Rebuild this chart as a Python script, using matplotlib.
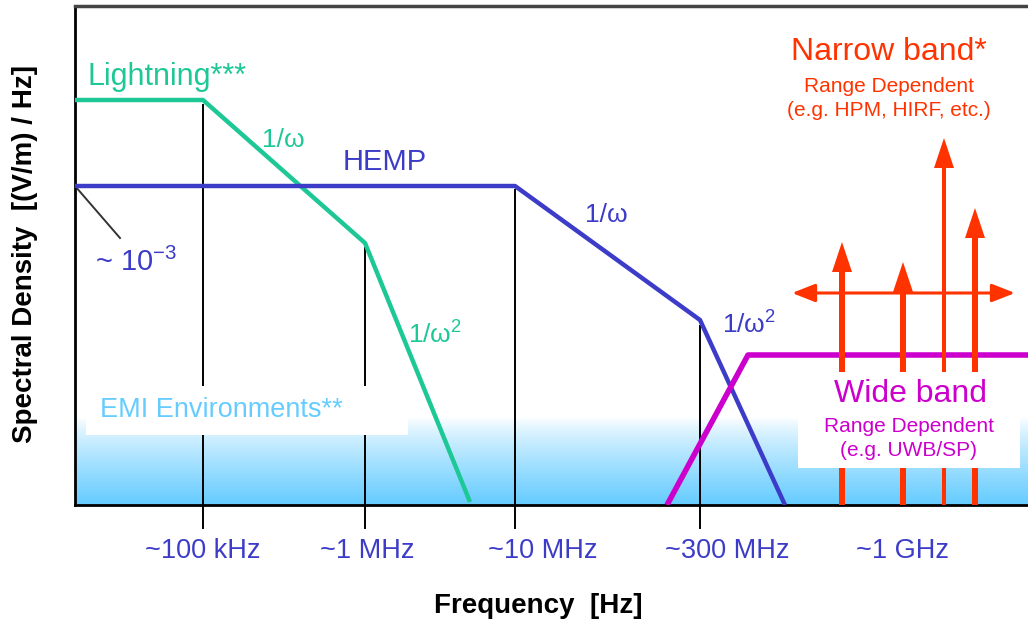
import numpy as np
import matplotlib
matplotlib.use("Agg")
import matplotlib.pyplot as plt
from matplotlib.colors import LinearSegmentedColormap
from matplotlib.patches import Rectangle

plt.rcParams['font.family'] = ['Liberation Sans', 'DejaVu Sans']
plt.rcParams['mathtext.fontset'] = 'custom'
plt.rcParams['mathtext.rm'] = 'Liberation Sans'
plt.rcParams['mathtext.default'] = 'regular'

# schematic units (x: position along frequency axis, y: spectral density level)
lightning_x = [0, 128, 290, 395]
lightning_y = [405, 405, 262, 3]
hemp_x = [0, 440, 625, 710]
hemp_y = [319, 319, 185, 0]
wide_x = [592, 673, 953]
wide_y = [0, 150, 150]

# narrow band sources
narrow_x = [767, 828, 869, 900]
narrow_h = [263, 243, 367, 297]
narrow_w = [6, 6, 4, 6]

# frequency markers: (line x, line top) and label positions
tick_x = [128, 290, 440, 625]
tick_top = [400, 257, 315, 179]
label_x = [128, 292, 468, 652, 828]
label_txt = ['~100 kHz', '~1 MHz', '~10 MHz', '~300 MHz', '~1 GHz']

green = '#1ec896'
blue = '#3c3cc8'
magenta = '#cc00cc'
red = '#ff3300'
sky = '#66ccff'

fig = plt.figure(figsize=(10.28, 6.23), dpi=100)
ax = fig.add_axes([75 / 1028, 118 / 623, 953 / 1028, 499 / 623])
ax.set_xlim(0, 953)
ax.set_ylim(0, 499)
ax.set_xticks([])
ax.set_yticks([])
ax.spines['right'].set_visible(False)
for s in ['left', 'bottom']:
    ax.spines[s].set_linewidth(2)
ax.spines['top'].set_linewidth(2.5)
ax.spines['top'].set_color('#444444')

# light blue ground gradient: white on top, sky blue at the axis
cmap = LinearSegmentedColormap.from_list('g', ['white', sky])
grad = (np.linspace(0, 1, 100) ** 0.8).reshape(-1, 1)
ax.imshow(grad, cmap=cmap, aspect='auto', extent=[0, 953, 0, 88],
          origin='upper', zorder=0, vmin=0, vmax=1)

# frequency marker lines
for x, top in zip(tick_x, tick_top):
    ax.plot([x, x], [-23, top], color='black', lw=1.4, clip_on=False, zorder=1)

# leader for 10^-3
ax.plot([0, 45], [319, 267], color='#333333', lw=1.4, zorder=1)

# white label boxes
ax.add_patch(Rectangle((11, 70), 322, 49, facecolor='white', edgecolor='none', zorder=2))
ax.add_patch(Rectangle((723, 37), 222, 96, facecolor='white', edgecolor='none', zorder=6))

ax.plot(lightning_x, lightning_y, color=green, lw=3.2, zorder=3, solid_capstyle='butt')
ax.plot(hemp_x, hemp_y, color=blue, lw=3.2, zorder=3, solid_capstyle='butt')
ax.plot(wide_x, wide_y, color=magenta, lw=4, zorder=4, solid_capstyle='butt')

for x, h, w in zip(narrow_x, narrow_h, narrow_w):
    ax.arrow(x, 0, 0, h, width=w, head_width=20, head_length=30,
             length_includes_head=True, color=red, lw=0, zorder=5)
ax.annotate('', xy=(940, 212), xytext=(717, 212),
            arrowprops=dict(arrowstyle='<|-|>,head_length=1.4,head_width=0.55',
                            lw=2.2, color=red, shrinkA=0, shrinkB=0), zorder=5)

# curve labels
ax.text(13, 428, 'Lightning***', color=green, fontsize=22, va='center')
ax.text(187, 365, '1/ω', color=green, fontsize=19, va='center')
ax.text(333, 170, '1/ω$^2$', color=green, fontsize=19, va='center')
ax.text(268, 343, 'HEMP', color=blue, fontsize=21, va='center')
ax.text(510, 290, '1/ω', color=blue, fontsize=19, va='center')
ax.text(647, 180, '1/ω$^2$', color=blue, fontsize=19, va='center')
ax.text(20, 243, '~ 10$^{-3}$', color=blue, fontsize=21, va='center')
ax.text(25, 95, 'EMI Environments**', color=sky, fontsize=19.5, va='center', zorder=3)

ax.text(835, 111, 'Wide band', color=magenta, fontsize=23, ha='center', va='center', zorder=7)
ax.text(834, 78, 'Range Dependent', color=magenta, fontsize=15, ha='center', va='center', zorder=7)
ax.text(834, 54, '(e.g. UWB/SP)', color=magenta, fontsize=15, ha='center', va='center', zorder=7)

ax.text(814, 453, 'Narrow band*', color=red, fontsize=23, ha='center', va='center')
ax.text(814, 418, 'Range Dependent', color=red, fontsize=15, ha='center', va='center')
ax.text(814, 395, '(e.g. HPM, HIRF, etc.)', color=red, fontsize=15, ha='center', va='center')

for x, t in zip(label_x, label_txt):
    ax.text(x, -46, t, color=blue, fontsize=19.5, ha='center', va='center', clip_on=False)

fig.text(538 / 1028, 1 - 606 / 623, 'Frequency  [Hz]', fontsize=20, fontweight='bold',
         ha='center', va='center')
fig.text(25 / 1028, 1 - 254 / 623, 'Spectral Density  [(V/m) / Hz]', fontsize=20,
         fontweight='bold', rotation=90, ha='center', va='center')

fig.savefig('out.png', dpi=100)
